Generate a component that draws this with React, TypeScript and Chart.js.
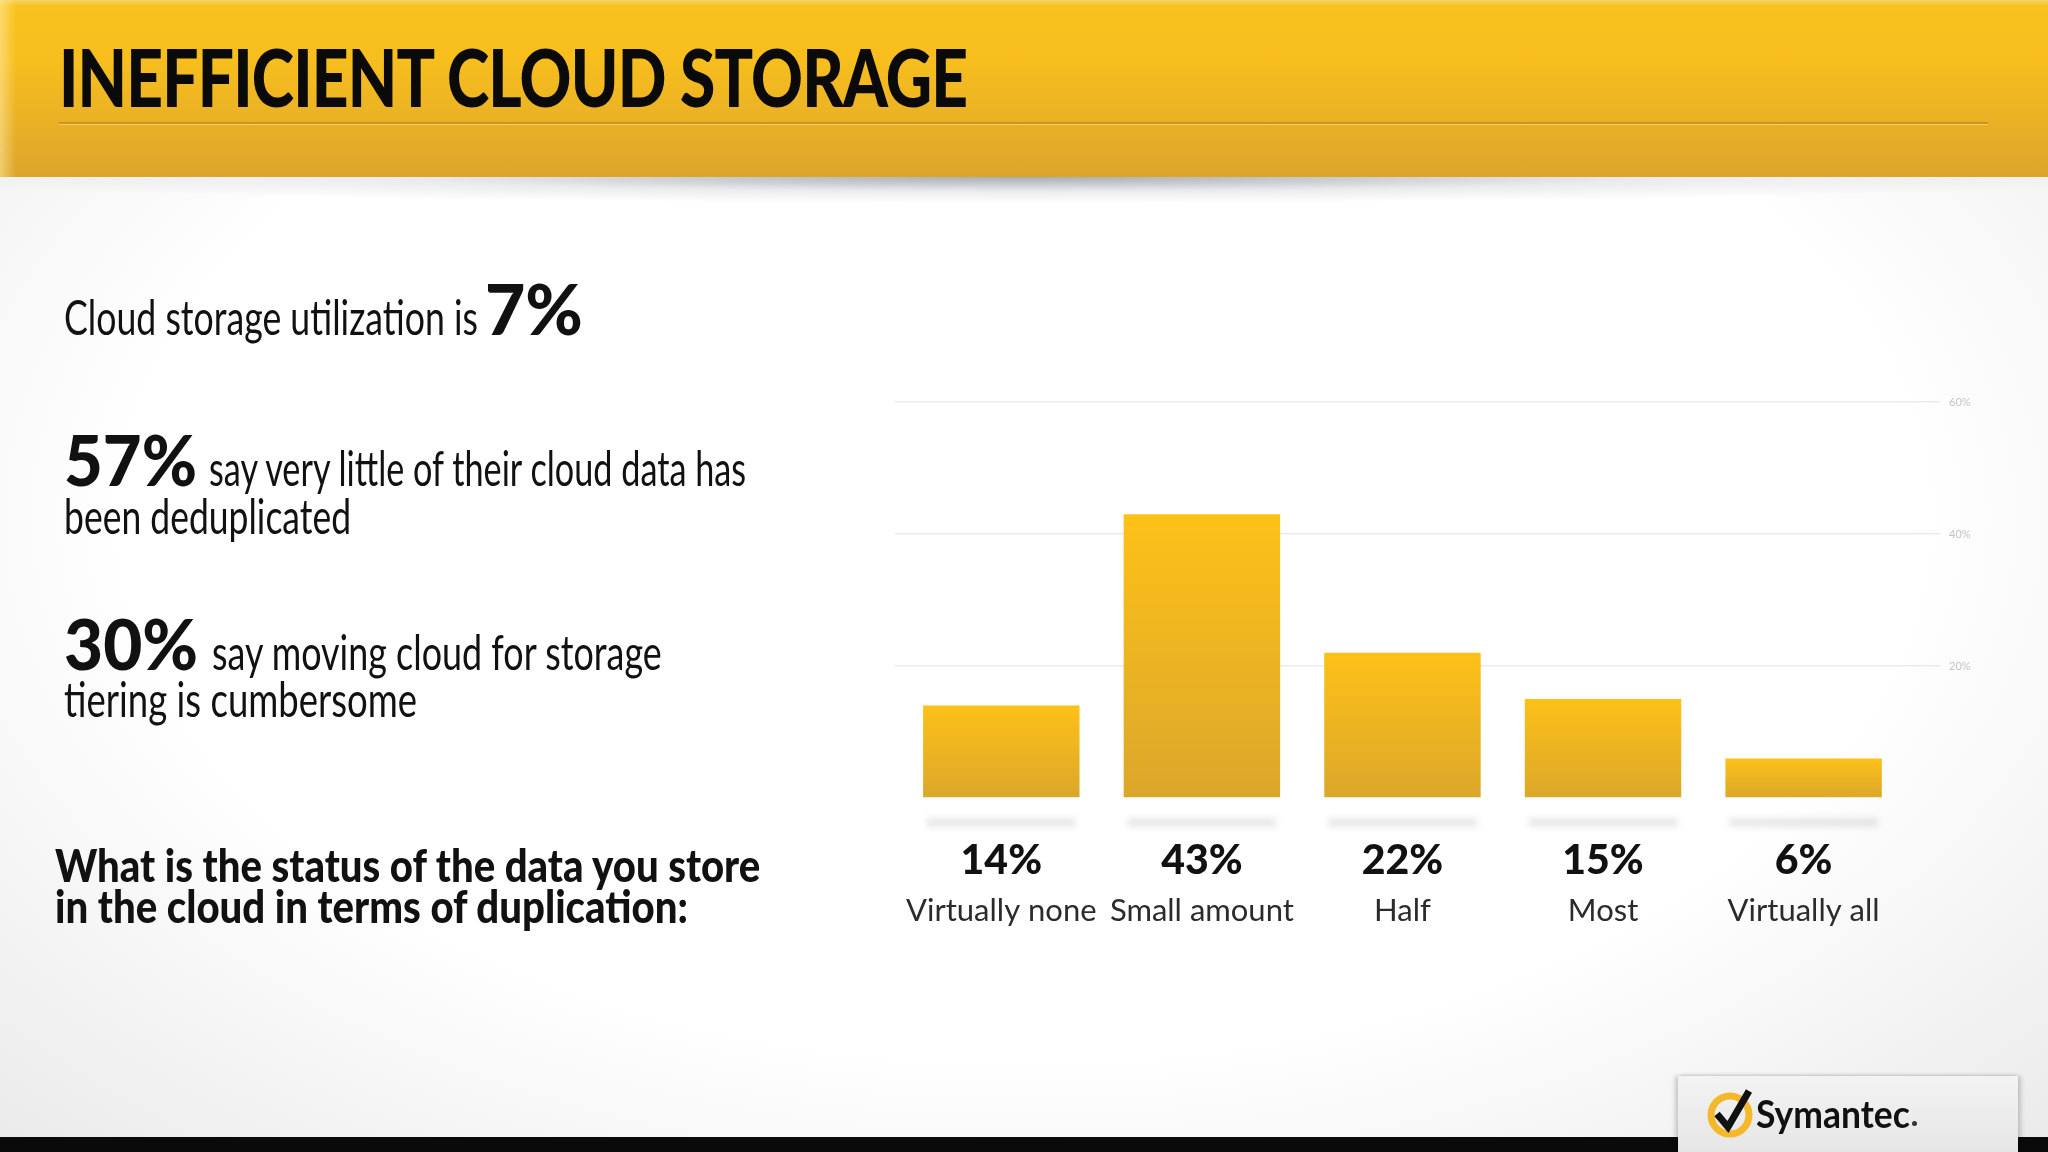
import React, { useEffect, useLayoutEffect, useRef, useState } from 'react';
import { Chart, registerables } from 'chart.js';

Chart.register(...registerables);

// ---------- data ----------
const TITLE = 'INEFFICIENT CLOUD STORAGE';
const CATEGORIES = ['Virtually none', 'Small amount', 'Half', 'Most', 'Virtually all'];
const VALUES = [14, 43, 22, 15, 6];
const VALUE_LABELS = ['14%', '43%', '22%', '15%', '6%'];
const Y_TICKS = [0, 20, 40, 60];
const Y_TICK_LABELS = ['', '20%', '40%', '60%'];

// ---------- styles ----------
const BODY_FONT = "Lato, 'Open Sans', 'Noto Sans', sans-serif";
const X_MIN = -0.53;
const X_MAX = 4.68;

type FitProps = {
  x: number;
  baseline: number;
  width: number;
  size: number;
  weight?: number;
  text: string;
  color?: string;
  family?: string;
  spacing?: number;
};

function FitText({ x, baseline, width, size, weight = 400, text, color = '#111', family = BODY_FONT, spacing = 0 }: FitProps) {
  const txtRef = useRef<HTMLSpanElement>(null);
  const markRef = useRef<HTMLSpanElement>(null);
  const [fit, setFit] = useState({ sx: 1, dy: size * 0.9 });
  useLayoutEffect(() => {
    let alive = true;
    const measure = () => {
      if (!alive || !txtRef.current || !markRef.current) return;
      const w = txtRef.current.offsetWidth;
      const dy = markRef.current.offsetTop;
      setFit({ sx: w > 0 ? width / w : 1, dy });
    };
    measure();
    if ((document as any).fonts && (document as any).fonts.ready) {
      (document as any).fonts.ready.then(measure);
    }
    return () => {
      alive = false;
    };
  }, [text, width, size, weight, family, spacing]);
  return (
    <div
      style={{
        position: 'absolute',
        left: x,
        top: baseline - fit.dy,
        fontFamily: family,
        fontSize: size,
        fontWeight: weight,
        lineHeight: `${Math.round(size * 1.2)}px`,
        letterSpacing: spacing,
        whiteSpace: 'nowrap',
        color,
        transform: `scaleX(${fit.sx})`,
        transformOrigin: '0 0',
      }}
    >
      <span ref={txtRef}>{text}</span>
      <span ref={markRef} style={{ display: 'inline-block', width: 0, height: 0, verticalAlign: 'baseline' }} />
    </div>
  );
}

function BarChart() {
  const ref = useRef<HTMLCanvasElement>(null);
  useEffect(() => {
    const canvas = ref.current;
    if (!canvas) return;

    const shadowPlugin = {
      id: 'barShadows',
      beforeDatasetsDraw(chart: any) {
        const meta = chart.getDatasetMeta(0);
        const base = chart.scales.y.getPixelForValue(0);
        const ctx = chart.ctx;
        ctx.save();
        ctx.filter = 'blur(3px)';
        ctx.fillStyle = 'rgba(0,0,0,0.09)';
        meta.data.forEach((bar: any) => {
          const w = bar.width * 0.95;
          ctx.beginPath();
          ctx.rect(bar.x - w / 2, base + 20, w, 9);
          ctx.fill();
        });
        ctx.restore();
      },
    };

    const barFill = (c: any) => {
      const chart = c.chart;
      if (!chart.chartArea || c.type !== 'data') return '#f2b820';
      const ys = chart.scales.y;
      const top = ys.getPixelForValue(VALUES[c.dataIndex]);
      const base = ys.getPixelForValue(0);
      if (!isFinite(top) || !isFinite(base) || top === base) return '#f2b820';
      const g = chart.ctx.createLinearGradient(0, top, 0, base);
      g.addColorStop(0, '#fdc118');
      g.addColorStop(1, '#dba72b');
      return g;
    };

    const xCommon = {
      type: 'linear' as const,
      position: 'bottom' as const,
      min: X_MIN,
      max: X_MAX,
      offset: false,
      grid: { display: false },
      border: { display: false },
      afterBuildTicks: (s: any) => {
        s.ticks = CATEGORIES.map((_, i) => ({ value: i }));
      },
    };

    const chart = new Chart(canvas, {
      type: 'bar',
      data: {
        datasets: [
          {
            data: VALUES.map((v, i) => ({ x: i, y: v })) as any,
            backgroundColor: barFill,
            borderWidth: 0,
            barPercentage: 0.78,
            categoryPercentage: 1,
          },
        ],
      },
      options: {
        animation: false,
        responsive: false,
        maintainAspectRatio: false,
        layout: { padding: { left: 15, right: 20, top: 22, bottom: 22 } },
        plugins: { legend: { display: false }, tooltip: { enabled: false } },
        scales: {
          x: {
            ...xCommon,
            weight: 1,
            afterFit: (s: any) => {
              s.height = 86;
              s.paddingLeft = 0;
              s.paddingRight = 0;
            },
            ticks: {
              autoSkip: false,
              maxRotation: 0,
              minRotation: 0,
              padding: 30,
              color: '#111111',
              font: { family: BODY_FONT, size: 41, weight: 900 },
              callback: (_v: any, i: number) => VALUE_LABELS[i],
            },
          },
          x2: {
            ...xCommon,
            weight: 2,
            afterFit: (s: any) => {
              s.height = 54;
              s.paddingLeft = 0;
              s.paddingRight = 0;
            },
            ticks: {
              autoSkip: false,
              maxRotation: 0,
              minRotation: 0,
              padding: 0,
              color: '#2b2b2b',
              font: { family: BODY_FONT, size: 31, weight: 'normal' },
              callback: (_v: any, i: number) => CATEGORIES[i],
            },
          },
          y: {
            position: 'right',
            min: 0,
            max: 60,
            afterBuildTicks: (s: any) => {
              s.ticks = Y_TICKS.map((v) => ({ value: v }));
            },
            afterFit: (s: any) => {
              s.width = 60;
            },
            grid: {
              color: (c: any) => (c.tick && c.tick.value === 0 ? 'rgba(0,0,0,0)' : '#ebebeb'),
              lineWidth: 1.5,
              drawTicks: false,
            },
            border: { display: false },
            ticks: {
              padding: 9,
              color: '#c4c4c4',
              font: { family: BODY_FONT, size: 11 },
              callback: (_v: any, i: number) => Y_TICK_LABELS[i],
            },
          },
        },
      } as any,
      plugins: [shadowPlugin],
    });
    return () => chart.destroy();
  }, []);
  return (
    <canvas
      ref={ref}
      width={1140}
      height={580}
      style={{ position: 'absolute', left: 880, top: 380, width: 1140, height: 580 }}
    />
  );
}

function SymantecLogo() {
  return (
    <svg
      width={80}
      height={70}
      viewBox="0 0 80 70"
      style={{ position: 'absolute', left: 1700, top: 1078 }}
    >
      <circle cx={30} cy={37} r={19} fill="none" stroke="#f4b82a" strokeWidth={7} />
      <path d="M17 36 L28 49 L49 13" fill="none" stroke="#111" strokeWidth={7} strokeLinejoin="miter" strokeLinecap="butt" />
    </svg>
  );
}

export default function App() {
  useEffect(() => {
    document.body.style.margin = '0';
  }, []);
  return (
    <div
      style={{
        position: 'fixed',
        left: 0,
        top: 0,
        width: 2048,
        height: 1152,
        overflow: 'hidden',
        background: 'radial-gradient(ellipse 70% 75% at 50% 45%, #ffffff 62%, #ebebeb 100%)',
        fontFamily: BODY_FONT,
      }}
    >
      {/* header band */}
      <div
        style={{
          position: 'absolute',
          left: 0,
          top: 0,
          width: 2048,
          height: 177,
          background:
            'linear-gradient(180deg, #f3d466 0px, #f9c21d 6px, #f7be1e 60px, #e9b026 125px, #dca52b 177px)',
        }}
      />
      <div
        style={{
          position: 'absolute',
          left: 0,
          top: 0,
          width: 16,
          height: 177,
          background: 'linear-gradient(90deg, rgba(255,236,170,0.55), rgba(255,236,170,0))',
        }}
      />
      <div style={{ position: 'absolute', left: 59, top: 122, width: 1929, height: 2, background: '#c7961f' }} />
      <div style={{ position: 'absolute', left: 59, top: 124, width: 1929, height: 1, background: 'rgba(255,225,130,0.6)' }} />
      <div
        style={{
          position: 'absolute',
          left: 0,
          top: 177,
          width: 2048,
          height: 26,
          background:
            'radial-gradient(ellipse 55% 100% at 50% 0%, rgba(95,105,110,0.55) 0%, rgba(160,165,170,0.22) 55%, rgba(255,255,255,0) 100%)',
        }}
      />
      <FitText x={59} baseline={107} width={908} size={80} weight={900} text={TITLE} color="#0a0a0a" spacing={-1} />

      {/* left statements */}
      <FitText x={64} baseline={335} width={414} size={49} text="Cloud storage utilization is" />
      <FitText x={485} baseline={335} width={98} size={71} weight={900} text="7%" />

      <FitText x={64} baseline={486} width={133} size={71} weight={900} text="57%" />
      <FitText x={209} baseline={486} width={537} size={48} text="say very little of their cloud data has" />
      <FitText x={64} baseline={534} width={287} size={48} text="been deduplicated" />

      <FitText x={64} baseline={670} width={134} size={71} weight={900} text="30%" />
      <FitText x={212} baseline={670} width={450} size={48} text="say moving cloud for storage" />
      <FitText x={64} baseline={717} width={353} size={48} text="tiering is cumbersome" />

      <FitText x={55} baseline={882} width={705} size={46} weight={900} text="What is the status of the data you store" />
      <FitText x={55} baseline={923} width={633} size={46} weight={900} text="in the cloud in terms of duplication:" />

      <BarChart />

      {/* footer */}
      <div style={{ position: 'absolute', left: 0, top: 1137, width: 2048, height: 15, background: '#0a0a0a' }} />
      <div
        style={{
          position: 'absolute',
          left: 1678,
          top: 1076,
          width: 340,
          height: 76,
          background: 'linear-gradient(180deg, #f3f3f3, #e6e6e6)',
          boxShadow: '-3px 0 4px rgba(0,0,0,0.18), 3px 0 4px rgba(0,0,0,0.18)',
        }}
      />
      <SymantecLogo />
      <FitText x={1756} baseline={1128} width={154} size={38} weight={700} text="Symantec" color="#111" />
      <div style={{ position: 'absolute', left: 1912, top: 1121, width: 5, height: 5, borderRadius: 3, background: '#333' }} />
    </div>
  );
}
